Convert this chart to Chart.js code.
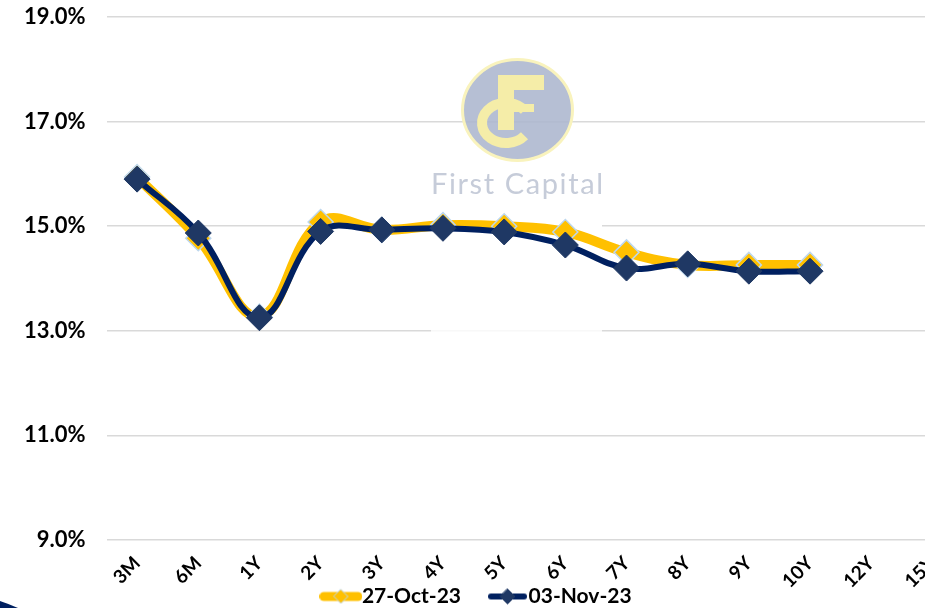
<!DOCTYPE html>
<html>
<head>
<meta charset="utf-8">
<script src="https://cdn.jsdelivr.net/npm/chart.js@4/dist/chart.umd.min.js"></script>
<style>
  html, body { margin: 0; padding: 0; background: #fff; overflow: hidden; width: 925px; height: 608px; }
  canvas { display: block; }
</style>
</head>
<body>
<canvas id="curve" width="977" height="608"></canvas>
<script>
const tenors = ['3M','6M','1Y','2Y','3Y','4Y','5Y','6Y','7Y','8Y','9Y','10Y','12Y','15Y'];
const oct27 = [15.94,14.77,13.27,15.08,14.93,15.02,15.0,14.89,14.5,14.26,14.26,14.26];
const nov03 = [15.9,14.87,13.25,14.9,14.93,14.96,14.89,14.64,14.2,14.28,14.14,14.14];
const seriesNames = ['27-Oct-23','03-Nov-23'];

// legend swatch: rounded line with a diamond on it
function swatch(w, lineW, lineCol, r, fill, edge) {
  const c = document.createElement('canvas');
  c.width = w; c.height = 20;
  const g = c.getContext('2d');
  g.strokeStyle = lineCol; g.lineWidth = lineW; g.lineCap = 'round';
  g.beginPath(); g.moveTo(lineW/2, 10); g.lineTo(w - lineW/2, 10); g.stroke();
  g.beginPath();
  g.moveTo(w/2, 10-r); g.lineTo(w/2+r, 10); g.lineTo(w/2, 10+r); g.lineTo(w/2-r, 10); g.closePath();
  g.fillStyle = fill; g.fill();
  g.strokeStyle = edge; g.lineWidth = 1; g.stroke();
  return c;
}
const swatches = [
  swatch(43, 9, '#ffc000', 7, '#ffc000', '#bdd7ee'),
  swatch(39, 6, '#002060', 7.5, '#1f3864', '#1f3864')
];

// watermark sits over the grid but under the lines
const watermark = {
  id: 'watermark',
  afterLayout(chart) {
    // legend padding is only there for the gap between items, so pull it up
    chart.legend.top = 550;
    chart.legend.left = 3;
    chart.legend.right = 959;
  },
  beforeDatasetsDraw(chart) {
    const c = chart.ctx;
    c.save();
    c.fillStyle = 'rgba(255,255,255,0.8)';
    c.fillRect(431, 140, 171, 193);
    c.fillStyle = '#fff';
    c.fillRect(431, 220, 171, 12);
    c.beginPath();
    c.ellipse(517.5, 110, 55, 50.5, 0, 0, Math.PI*2);
    c.fillStyle = 'rgba(172,182,206,0.88)';
    c.fill();
    c.lineWidth = 3;
    c.strokeStyle = '#f9f3bd';
    c.stroke();
    c.strokeStyle = c.fillStyle = '#f5eda8';
    c.lineWidth = 10;
    c.beginPath();
    c.ellipse(506, 123, 24, 20, 0, 0.22*Math.PI, 1.78*Math.PI);
    c.stroke();
    c.fillRect(498, 75, 46, 15);
    c.fillRect(498, 75, 16, 55);
    c.fillRect(498, 104, 36, 8);
    c.fillStyle = '#c6ccd9';
    c.font = '29px Lato';
    c.letterSpacing = '1.6px';
    c.textBaseline = 'alphabetic';
    c.fillText('First Capital', 431, 194);
    c.restore();
  },
  afterDraw(chart) {
    const c = chart.ctx;
    c.save();
    c.fillStyle = '#002060';
    c.beginPath();
    c.moveTo(0, 601); c.quadraticCurveTo(9, 604, 18, 608); c.lineTo(0, 608); c.closePath();
    c.fill();
    c.restore();
  }
};

new Chart(document.getElementById('curve'), {
  type: 'line',
  plugins: [watermark],
  data: {
    labels: tenors,
    datasets: [
      {
        label: seriesNames[0], data: oct27, order: 2,
        borderColor: '#ffc000', borderWidth: 10, tension: 0.4, borderCapStyle: 'round',
        pointStyle: 'rectRot', pointRadius: 12.5, pointBackgroundColor: '#ffc000',
        pointBorderColor: '#bdd7ee', pointBorderWidth: 1.5
      },
      {
        label: seriesNames[1], data: nov03, order: 1,
        borderColor: '#002060', borderWidth: 6, tension: 0.4, borderCapStyle: 'round',
        pointStyle: 'rectRot', pointRadius: 13, pointBackgroundColor: '#1f3864',
        pointBorderColor: '#1f3864', pointBorderWidth: 1
      }
    ]
  },
  options: {
    responsive: false,
    animation: false,
    layout: { padding: { top: 17, left: 3, right: 2.5, bottom: 0 } },
    scales: {
      x: {
        offset: true,
        grid: { display: false },
        border: { display: false },
        ticks: {
          color: '#000', font: { family: 'Lato', size: 19, weight: 'bold' },
          minRotation: 45, maxRotation: 45, autoSkip: false, padding: 4
        },
        afterFit(scale) { scale.height = 63; scale.paddingLeft = 0; scale.paddingRight = 0; }
      },
      y: {
        min: 9, max: 19,
        grid: { color: '#d9d9d9', lineWidth: 1.5, drawTicks: false },
        border: { display: false },
        ticks: {
          stepSize: 2, color: '#000', font: { family: 'Lato', size: 22, weight: 'bold' }, padding: 21,
          callback: v => v.toFixed(1) + '%'
        },
        afterFit(scale) { scale.width = 103.5; scale.paddingTop = 0; scale.paddingBottom = 0; }
      }
    },
    plugins: {
      tooltip: { enabled: false },
      legend: {
        position: 'bottom',
        maxHeight: 5,
        labels: {
          usePointStyle: true, pointStyleWidth: 21, padding: 36,
          color: '#000', font: { family: 'Lato', size: 21, weight: 'bold' },
          sort: (a, b) => a.datasetIndex - b.datasetIndex,
          generateLabels(chart) {
            const items = Chart.defaults.plugins.legend.labels.generateLabels(chart);
            items.forEach(it => { it.pointStyle = swatches[it.datasetIndex]; });
            return items;
          }
        }
      }
    }
  }
});
</script>
</body>
</html>
